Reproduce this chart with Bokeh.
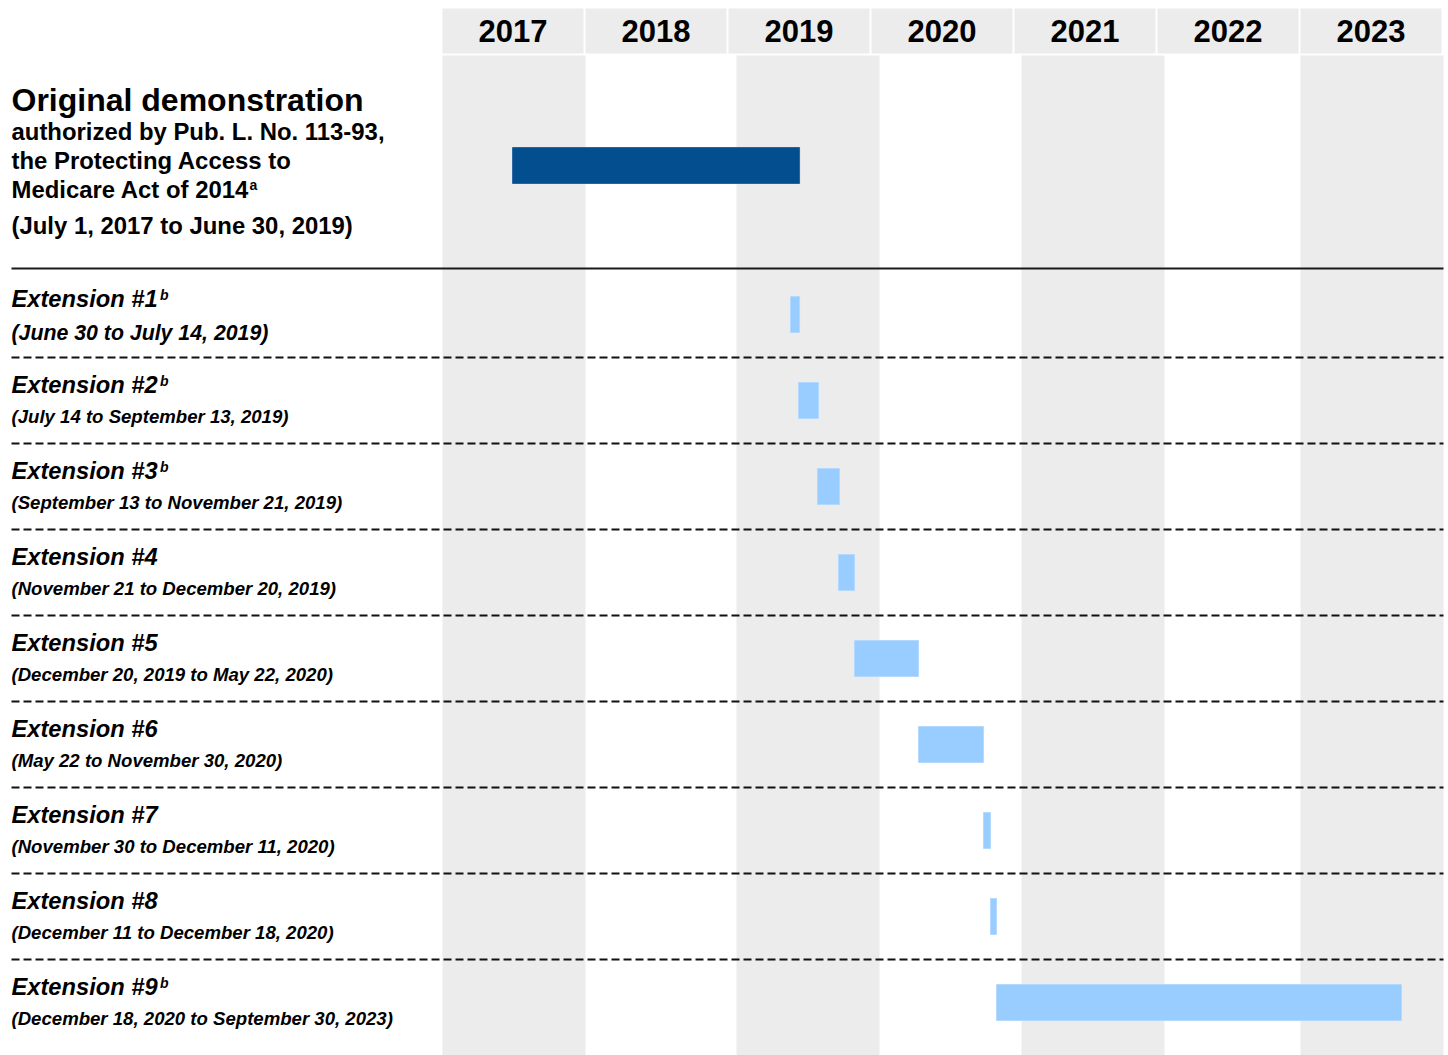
from bokeh.plotting import figure
from bokeh.models import Range1d, ColumnDataSource
from bokeh.core.properties import value
from bokeh.embed import file_html
from bokeh.resources import INLINE

# ---------------- data ----------------
years = [2017, 2018, 2019, 2020, 2021, 2022, 2023]
year_labels = ["2017", "2018", "2019", "2020", "2021", "2022", "2023"]
shaded_years = [2017, 2019, 2021, 2023]

orig_title = "Original demonstration"
orig_lines = ["authorized by Pub. L. No. 113-93,", "the Protecting Access to", "Medicare Act of 2014"]
orig_note = "a"
orig_period = "(July 1, 2017 to June 30, 2019)"
orig_start = [2017.490]
orig_end = [2019.497]

ext_names = ["Extension #1", "Extension #2", "Extension #3", "Extension #4", "Extension #5",
             "Extension #6", "Extension #7", "Extension #8", "Extension #9"]
ext_notes = ["b", "b", "b", "", "", "", "", "", "b"]
ext_periods = ["(June 30 to July 14, 2019)",
               "(July 14 to September 13, 2019)",
               "(September 13 to November 21, 2019)",
               "(November 21 to December 20, 2019)",
               "(December 20, 2019 to May 22, 2020)",
               "(May 22 to November 30, 2020)",
               "(November 30 to December 11, 2020)",
               "(December 11 to December 18, 2020)",
               "(December 18, 2020 to September 30, 2023)"]
ext_start = [2019.434, 2019.490, 2019.622, 2019.769, 2019.881, 2020.329, 2020.783, 2020.832, 2020.874]
ext_end = [2019.497, 2019.629, 2019.776, 2019.881, 2020.329, 2020.783, 2020.832, 2020.874, 2023.706]

# ---------------- layout ----------------
X0_PX = 442.0
PX_PER_YEAR = 143.0
def yr(px):
    return 2017 + (px - X0_PX) / PX_PER_YEAR

band_shift_px = [0, 8, 7, 0]
ROW0 = 314.0
ROW_STEP = 86.0
BAR_H = 36.0
FONT = value("Liberation Sans")
GREY = "#ececec"
W, H = 1448, 1055

p = figure(width=W, height=H, output_backend="svg", toolbar_location=None,
           x_range=Range1d(yr(0), yr(W)), y_range=Range1d(H, 0),
           min_border=0, outline_line_color=None)
p.axis.visible = False
p.grid.visible = False
p.background_fill_color = "white"
p.border_fill_color = "white"

# shaded columns
p.quad(left=[y + s / PX_PER_YEAR for y, s in zip(shaded_years, band_shift_px)],
       right=[y + 1 + s / PX_PER_YEAR for y, s in zip(shaded_years, band_shift_px)],
       top=55, bottom=H, fill_color=GREY, line_color=None)

# header cells
p.quad(left=years, right=[y + 141 / PX_PER_YEAR for y in years], top=8, bottom=53,
       fill_color=GREY, line_color=None)
p.text(x=[y + 70.5 / PX_PER_YEAR for y in years], y=[30.5] * len(years), text=year_labels,
       text_font=FONT, text_font_style="bold", text_font_size="31px",
       text_align="center", text_baseline="alphabetic", text_color="black")

# separator lines
xl, xr = yr(11), yr(1443)
p.segment(x0=[xl], x1=[xr], y0=[268], y1=[268], line_color="#1a1a1a", line_width=2)
dash_y = [ROW0 + ROW_STEP * i + 43 for i in range(len(ext_names) - 1)]
p.segment(x0=[xl] * len(dash_y), x1=[xr] * len(dash_y), y0=dash_y, y1=dash_y,
          line_color="#111111", line_width=2, line_dash="8 4")

# original bar
p.quad(left=orig_start, right=orig_end, top=[165 - BAR_H / 2], bottom=[165 + BAR_H / 2],
       fill_color="#034e8f", line_color="#2a64a0", line_width=1)

# extension bars
centers = [ROW0 + ROW_STEP * i for i in range(len(ext_names))]
src = ColumnDataSource(dict(left=ext_start, right=ext_end,
                            top=[c - BAR_H / 2 for c in centers],
                            bottom=[c + BAR_H / 2 for c in centers]))
p.quad(left="left", right="right", top="top", bottom="bottom", source=src,
       fill_color="#99ccff", line_color="#b3d9ff", line_width=1)

# left text: original
p.text(x=[xl], y=[99.5], text=[orig_title], text_font=FONT, text_font_style="bold",
       text_font_size="32px", text_baseline="alphabetic", text_color="black")
p.text(x=[xl] * 3, y=[130.5, 159.5, 188.5], text=orig_lines, text_font=FONT,
       text_font_style="bold", text_font_size="23.9px", text_baseline="alphabetic",
       text_color="black")
p.text(x=[yr(249)], y=[184], text=[orig_note], text_font=FONT, text_font_style="bold",
       text_font_size="14px", text_baseline="alphabetic", text_color="black")
p.text(x=[xl], y=[224.5], text=[orig_period], text_font=FONT, text_font_style="bold",
       text_font_size="23.9px", text_baseline="alphabetic", text_color="black")

# left text: extensions
title_y = [c - 15.5 for c in centers]
p.text(x=[xl] * len(ext_names), y=title_y, text=ext_names, text_font=FONT,
       text_font_style="bold italic", text_font_size="23.7px", text_baseline="alphabetic",
       text_color="black")
sup_idx = [i for i, n in enumerate(ext_notes) if n]
p.text(x=[yr(159.5)] * len(sup_idx), y=[title_y[i] - 4.5 for i in sup_idx],
       text=[ext_notes[i] for i in sup_idx], text_font=FONT, text_font_style="bold italic",
       text_font_size="14px", text_baseline="alphabetic", text_color="black")
p.text(x=[xl], y=[title_y[0] + 34], text=[ext_periods[0]], text_font=FONT,
       text_font_style="bold italic", text_font_size="21.3px", text_baseline="alphabetic",
       text_color="black")
p.text(x=[xl] * (len(ext_names) - 1), y=[t + 31 for t in title_y[1:]], text=ext_periods[1:],
       text_font=FONT, text_font_style="bold italic", text_font_size="18.6px",
       text_baseline="alphabetic", text_color="black")

open("out.html", "w").write(file_html(p, INLINE))
